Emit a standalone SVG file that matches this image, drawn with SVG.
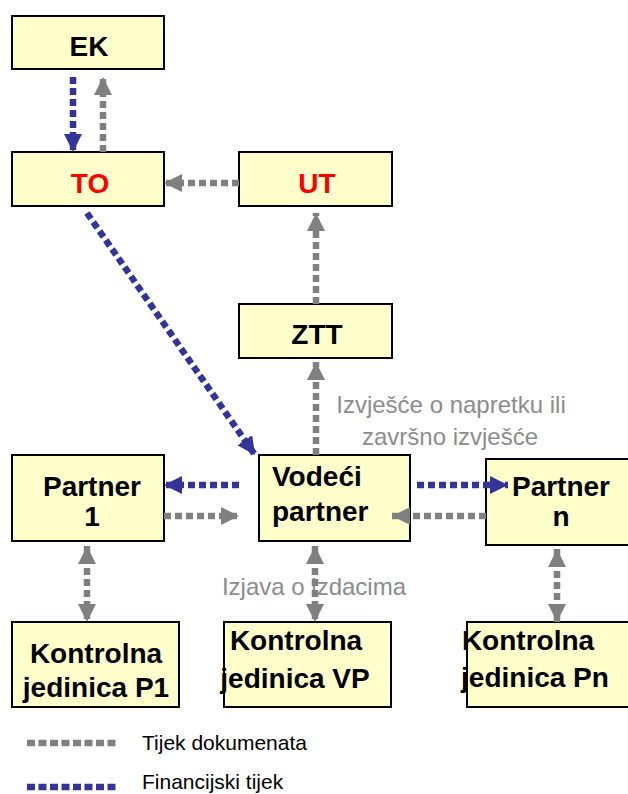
<svg xmlns="http://www.w3.org/2000/svg" width="628" height="794" viewBox="0 0 628 794">
<style>
.box{fill:#FFFFCC;stroke:#000;stroke-width:2}
.t{font-family:"Liberation Sans",Arial,sans-serif;font-weight:bold;font-size:28px;fill:#000;text-anchor:middle}
.red{fill:#FF0000}
.lbl{font-family:"Liberation Sans",Arial,sans-serif;font-size:24px;fill:#8C8C8C;text-anchor:middle}
.leg{font-family:"Liberation Sans",Arial,sans-serif;font-size:21px;fill:#000}
.g{stroke:#808080;stroke-width:6.5;stroke-dasharray:7 4;fill:none}
.b{stroke:#333399;stroke-width:6.5;stroke-dasharray:7 4;fill:none}
.ga{marker-end:url(#ag)}
.ba{marker-end:url(#ab)}
.gd{marker-start:url(#ag);marker-end:url(#ag)}
</style>
<defs>
<marker id="ag" viewBox="0 0 18 18" refX="18" refY="9" markerWidth="18" markerHeight="18" markerUnits="userSpaceOnUse" orient="auto-start-reverse"><path d="M0,0 L18,9 L0,18 z" fill="#808080"/></marker>
<marker id="ab" viewBox="0 0 18 18" refX="18" refY="9" markerWidth="18" markerHeight="18" markerUnits="userSpaceOnUse" orient="auto-start-reverse"><path d="M0,0 L18,9 L0,18 z" fill="#333399"/></marker>
</defs>

<g id="EK"><rect class="box" x="12" y="16" width="152" height="53"/><text class="t" x="89" y="56">EK</text></g>
<g id="TO"><rect class="box" x="12" y="152" width="152" height="54"/><text class="t red" x="90" y="193">TO</text></g>
<g id="UT"><rect class="box" x="239" y="152" width="153" height="54"/><text class="t red" x="317" y="193">UT</text></g>
<g id="ZTT"><rect class="box" x="239" y="304" width="153" height="54"/><text class="t" x="317" y="344">ZTT</text></g>
<g id="Partner1"><rect class="box" x="12" y="455" width="152" height="86"/><text class="t" x="92" y="496">Partner</text><text class="t" x="92" y="526">1</text></g>
<g id="VodeciPartner"><rect class="box" x="259" y="455" width="151" height="86"/><text class="t" x="272" y="486" style="text-anchor:start">Vodeći</text><text class="t" x="272" y="521" style="text-anchor:start">partner</text></g>
<g id="PartnerN"><rect class="box" x="486" y="459" width="150" height="86"/><text class="t" x="561" y="496">Partner</text><text class="t" x="561" y="526">n</text></g>
<g id="KontrolnaP1"><rect class="box" x="12" y="622" width="167" height="85"/><text class="t" x="96" y="663">Kontrolna</text><text class="t" x="96" y="697">jedinica P1</text></g>
<g id="KontrolnaVP"><rect class="box" x="224" y="622" width="167" height="85"/><text class="t" x="296" y="650">Kontrolna</text><text class="t" x="295" y="688">jedinica VP</text></g>
<g id="KontrolnaPn"><rect class="box" x="467" y="622" width="167" height="85"/><text class="t" x="528" y="650">Kontrolna</text><text class="t" x="535" y="687">jedinica Pn</text></g>

<g id="labels">
<text class="lbl" x="451" y="413">Izvješće o napretku ili</text>
<text class="lbl" x="450" y="445">završno izvješće</text>
<text class="lbl" x="314" y="595">Izjava o izdacima</text>
</g>

<g id="connectors">
<line class="b ba" x1="73" y1="77" x2="73" y2="152"/>
<line class="g ga" x1="103" y1="152" x2="103" y2="77"/>
<line class="g ga" x1="239" y1="183" x2="164" y2="183"/>
<line class="g ga" x1="316" y1="304" x2="316" y2="213"/>
<line class="g ga" x1="316" y1="455" x2="316" y2="362"/>
<line class="b ba" x1="87" y1="213" x2="255" y2="455"/>
<line class="b ba" x1="239" y1="485" x2="164" y2="485"/>
<line class="g ga" x1="164" y1="516" x2="239" y2="516"/>
<line class="b ba" x1="417" y1="485" x2="508" y2="485"/>
<line class="g ga" x1="486" y1="516" x2="392" y2="516"/>
<line class="g gd" x1="87" y1="546" x2="87" y2="622"/>
<line class="g gd" x1="315" y1="546" x2="315" y2="622"/>
<line class="g gd" x1="557" y1="549" x2="557" y2="622"/>
</g>

<g id="legend">
<line class="g" x1="27" y1="743" x2="117" y2="743" style="stroke-dasharray:8 3.5"/>
<text class="leg" x="142" y="750">Tijek dokumenata</text>
<line class="b" x1="27" y1="787" x2="117" y2="787" style="stroke-dasharray:8 3.5"/>
<text class="leg" x="142" y="789">Financijski tijek</text>
</g>
</svg>
